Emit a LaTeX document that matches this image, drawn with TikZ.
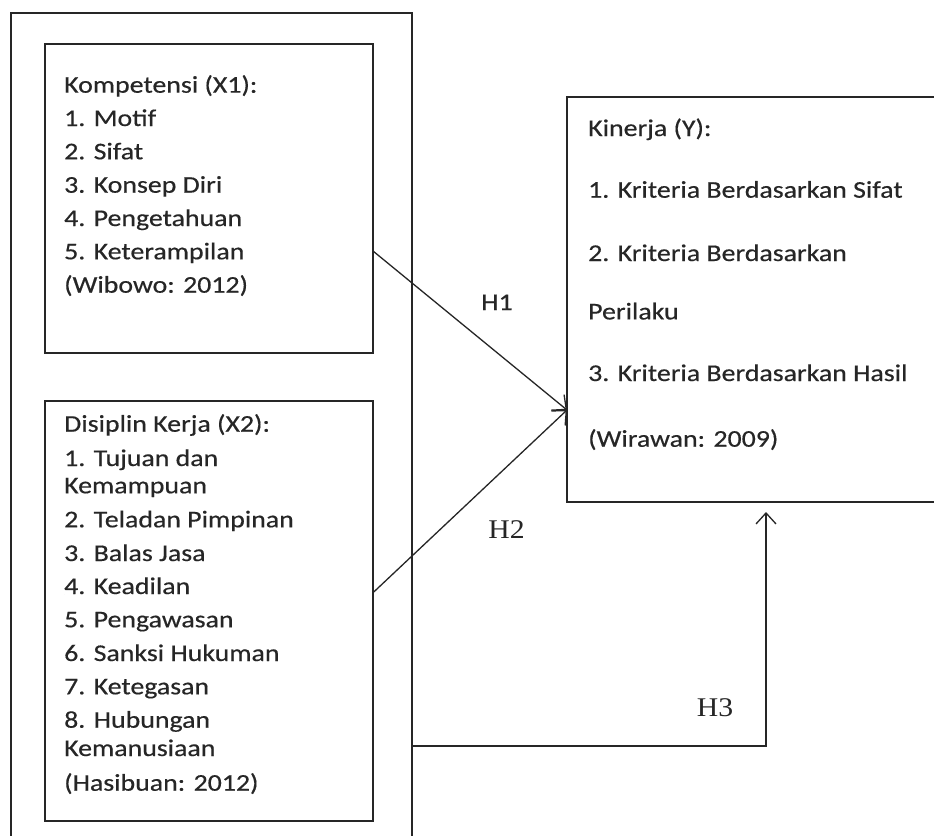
\documentclass[tikz,border=0pt]{standalone}
\usepackage{fontspec}
\setmainfont[FakeStretch=1.16,FakeBold=0.4]{Carlito}
\newfontfamily\hfont[FakeStretch=1.1]{Liberation Serif}
\usetikzlibrary{arrows.meta}
\definecolor{ink}{HTML}{262626}
\begin{document}
\begin{tikzpicture}[x=1pt,y=-1pt,
  frame/.style={draw=ink, line width=1.3pt, rectangle, inner sep=0pt, outer sep=0pt},
  txt/.style={anchor=base west, inner sep=0pt, text=ink, font=\fontsize{24}{28}\selectfont},
  hlab/.style={anchor=base, inner sep=0pt, text=ink, font=\hfont\fontsize{27}{30}\selectfont},
  conn/.style={draw=ink, line width=1.3pt, -{Straight Barb[length=11pt,width=20pt,line width=1.3pt]}}
]
\useasboundingbox (0,0) rectangle (934,835);
\fill[white] (0,0) rectangle (934,835);
\clip (0,0) rectangle (934,835);

% boxes
\node[frame, minimum width=401pt, minimum height=850pt] (outer) at (211.5,438) {};
\node[frame, minimum width=328pt, minimum height=309pt] (x1) at (209,198.5) {};
\node[frame, minimum width=328pt, minimum height=420pt] (x2) at (209,611) {};
\node[frame, minimum width=400pt, minimum height=405pt] (y) at (767,299.5) {};

% X1 text
\node[txt] (a0) at (64,92.7) {Kompetensi (X1):};
\node[txt] (a1) at (64,126) {1. Motif};
\node[txt] (a2) at (64,159.3) {2. Sifat};
\node[txt] (a3) at (64,192.7) {3. Konsep Diri};
\node[txt] (a4) at (64,226) {4. Pengetahuan};
\node[txt] (a5) at (64,259.3) {5. Keterampilan};
\node[txt] (a6) at (64,292.7) {(Wibowo: 2012)};

% X2 text
\node[txt] (b0) at (64,431.7) {Disiplin Kerja (X2):};
\node[txt] (b1) at (64,466) {1. Tujuan dan};
\node[txt] (b1b) at (64,493.3) {Kemampuan};
\node[txt] (b2) at (64,527.3) {2. Teladan Pimpinan};
\node[txt] (b3) at (64,561) {3. Balas Jasa};
\node[txt] (b4) at (64,594) {4. Keadilan};
\node[txt] (b5) at (64,627.3) {5. Pengawasan};
\node[txt] (b6) at (64,661) {6. Sanksi Hukuman};
\node[txt] (b7) at (64,694.3) {7. Ketegasan};
\node[txt] (b8) at (64,727.7) {8. Hubungan};
\node[txt] (b8b) at (64,756) {Kemanusiaan};
\node[txt] (b9) at (64,790.7) {(Hasibuan: 2012)};

% Y text
\node[txt] (c0) at (588,136) {Kinerja (Y):};
\node[txt] (c1) at (588,197.7) {1. Kriteria Berdasarkan Sifat};
\node[txt] (c2) at (588,261) {2. Kriteria Berdasarkan};
\node[txt] (c2b) at (588,319.4) {Perilaku};
\node[txt] (c3) at (588,381) {3. Kriteria Berdasarkan Hasil};
\node[txt] (c4) at (588,446.7) {(Wirawan: 2009)};

% connector anchors
\coordinate (h1s) at (x1.east |- 0,251);
\coordinate (h2s) at (x2.east |- 0,592.7);
\coordinate (yin) at (y.west |- 0,410);
\coordinate (h3s) at (outer.east |- 0,746);
\coordinate (h3c) at (766,746);
\coordinate (h3e) at (766,512);

\draw[conn] (h1s) -- (yin);
\draw[conn] (h2s) -- (yin);
\draw[conn] (h3s) -- (h3c) -- (h3e);

% labels
\node[txt, anchor=base] (l1) at (497,310) {H1};
\node[hlab] (l2) at (506.5,538) {H2};
\node[hlab] (l3) at (715,716.7) {H3};
\end{tikzpicture}
\end{document}
